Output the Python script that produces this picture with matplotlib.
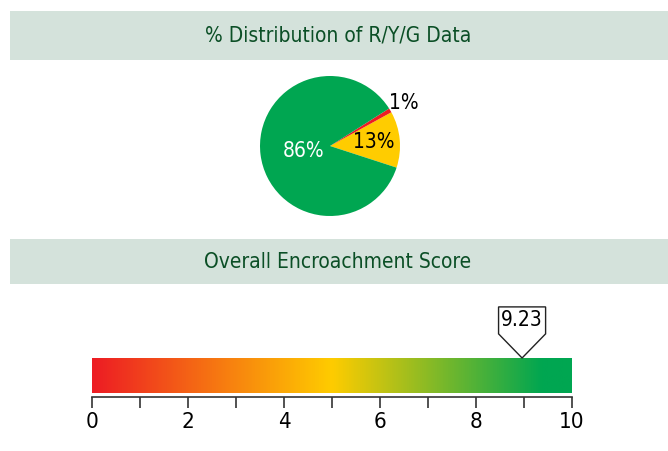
import matplotlib
matplotlib.use("Agg")
import matplotlib.pyplot as plt
import numpy as np
from matplotlib.colors import LinearSegmentedColormap
from matplotlib.patches import Rectangle, Polygon
from matplotlib.ticker import MultipleLocator
from matplotlib import font_manager

# condensed face if one is installed
names = {f.name for f in font_manager.fontManager.ttflist}
narrow = [n for n in ["Liberation Sans Narrow", "DejaVu Sans"] if n in names]
plt.rcParams["font.family"] = narrow + ["DejaVu Sans"]
plt.rcParams["font.stretch"] = "condensed"

# data
slice_labels = ["13%", "1%", "86%"]
slice_values = [13, 1, 86]
slice_colors = ["#FFCC00", "#ED1C24", "#00A651"]
score = 9.23
score_pointer = 8.96
scale_min, scale_max = 0, 10
grad_stops = [0.0, 0.5, 0.94, 1.0]
grad_colors = ["#ED1C24", "#FFCC00", "#00A651", "#00A651"]

W, H = 668, 451
fig = plt.figure(figsize=(W / 100, H / 100), dpi=100)
fig.patch.set_facecolor("white")


def px(x, y, w, h):
    # pixel box (top-left origin) -> figure fraction
    return [x / W, 1 - (y + h) / H, w / W, h / H]


header_bg = "#D4E2DB"
header_fg = "#0B4F26"
for (y0, hh, title) in [(11, 49, "% Distribution of R/Y/G Data"),
                        (239, 45, "Overall Encroachment Score")]:
    fig.patches.append(Rectangle((10 / W, 1 - (y0 + hh) / H), (W - 10) / W, hh / H,
                                 transform=fig.transFigure, facecolor=header_bg,
                                 edgecolor="none", zorder=0))
    fig.text(338 / W, 1 - (y0 + hh / 2) / H, title, ha="center", va="center",
             fontsize=15, color=header_fg)

# pie
ax_pie = fig.add_axes(px(260, 76, 140, 140))
wedges, _ = ax_pie.pie(slice_values, colors=slice_colors, startangle=-18,
                       counterclock=True, radius=1.0)
ax_pie.set_aspect("equal")
ax_pie.set_xlim(-1, 1)
ax_pie.set_ylim(-1, 1)
ax_pie.text(0.63, 0.05, slice_labels[0], ha="center", va="center", fontsize=15, color="black")
ax_pie.text(1.05, 0.62, slice_labels[1], ha="center", va="center", fontsize=15, color="black",
            clip_on=False)
ax_pie.text(-0.38, -0.07, slice_labels[2], ha="center", va="center", fontsize=15, color="white")

# gradient bar
ax_bar = fig.add_axes(px(92, 358, 480, 35))
cmap = LinearSegmentedColormap.from_list("ryg", list(zip(grad_stops, grad_colors)))
grad = np.linspace(0, 1, 512).reshape(1, -1)
ax_bar.imshow(grad, cmap=cmap, aspect="auto",
              extent=[scale_min, scale_max, 0, 1])
ax_bar.set_xlim(scale_min, scale_max)
ax_bar.set_ylim(0, 1)
ax_bar.axis("off")

# pointer box with score
bw, bh, tip = 0.49, 0.77, 0.69  # in data units (x) / axes units (y)
pointer = Polygon([[score_pointer, 1.0],
                   [score_pointer - bw, 1.0 + tip],
                   [score_pointer - bw, 1.0 + tip + bh],
                   [score_pointer + bw, 1.0 + tip + bh],
                   [score_pointer + bw, 1.0 + tip]],
                  closed=True, facecolor="white", edgecolor="#222222",
                  linewidth=1.0, clip_on=False, zorder=5)
ax_bar.add_patch(pointer)
ax_bar.text(score_pointer, 1.0 + tip + bh / 2, f"{score:.2f}", ha="center", va="center",
            fontsize=15, color="black", zorder=6, clip_on=False)

# scale axis
ax_scale = fig.add_axes(px(92, 396, 480, 1))
ax_scale.set_xlim(scale_min, scale_max)
ax_scale.set_yticks([])
for s in ["top", "left", "right"]:
    ax_scale.spines[s].set_visible(False)
ax_scale.spines["bottom"].set_color("#333333")
ax_scale.spines["bottom"].set_linewidth(1.2)
ax_scale.xaxis.set_major_locator(MultipleLocator(2))
ax_scale.xaxis.set_minor_locator(MultipleLocator(1))
ax_scale.tick_params(axis="x", which="both", direction="out", length=8, width=1.2,
                     color="#333333", labelsize=16, pad=3)
ax_scale.patch.set_alpha(0)

fig.savefig("out.png", dpi=100)
